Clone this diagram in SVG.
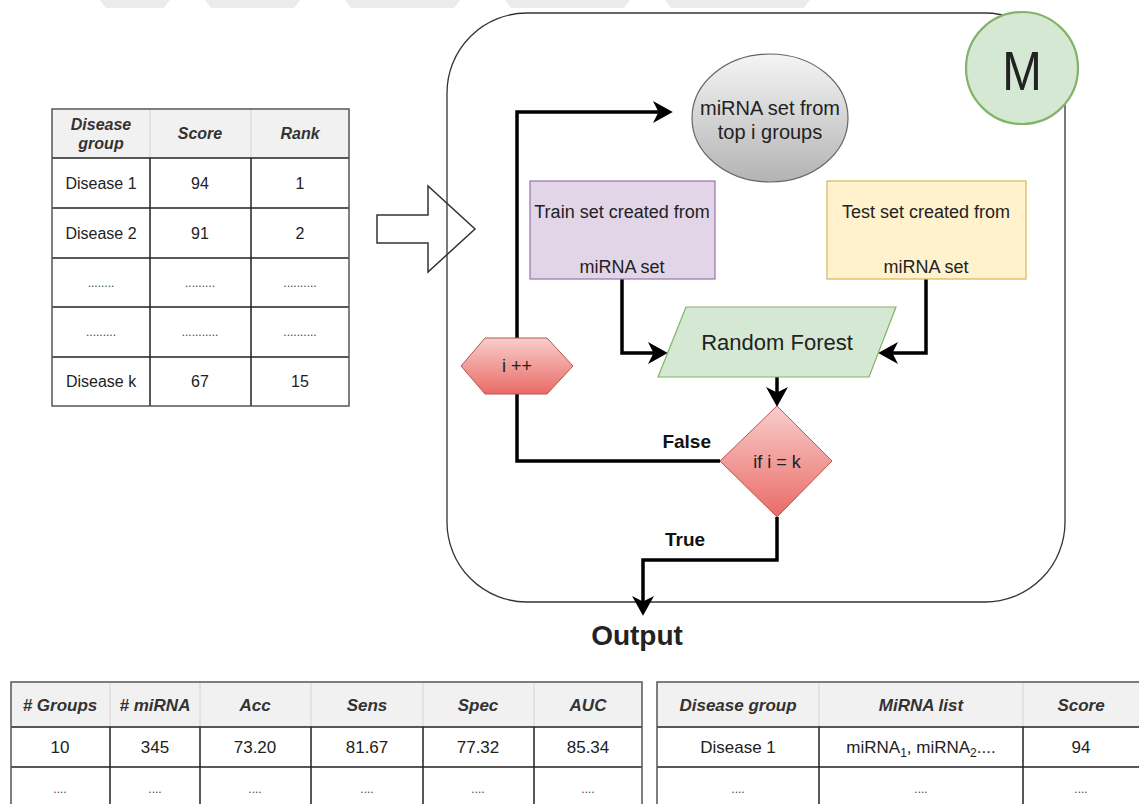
<svg xmlns="http://www.w3.org/2000/svg" width="1139" height="804" viewBox="0 0 1139 804">
  <defs>
    <linearGradient id="gGray" x1="0" y1="0" x2="0" y2="1">
      <stop offset="0" stop-color="#f5f5f5"/>
      <stop offset="1" stop-color="#b3b3b3"/>
    </linearGradient>
    <linearGradient id="gRed" x1="0" y1="0" x2="0" y2="1">
      <stop offset="0" stop-color="#f8cecc"/>
      <stop offset="1" stop-color="#ea6b66"/>
    </linearGradient>
    <marker id="arr" markerUnits="userSpaceOnUse" markerWidth="22" markerHeight="22" viewBox="0 0 20 20" refX="10" refY="10" orient="auto">
      <path d="M0,0 L18,10 L0,20 L5,10 Z" fill="#000"/>
    </marker>
    <style>
      text { font-family: "Liberation Sans", Arial, sans-serif; fill: #222; }
      .hd { font-weight: bold; font-style: italic; fill: #333; text-anchor: middle; }
      .td { text-anchor: middle; }
      .dots { text-anchor: middle; font-size: 12px; fill: #444; }
      .hdbg { fill: #f1f1f1; }
      .lgrid { stroke: #d4d4d4; stroke-width: 1; }
      .grid { stroke: #222; stroke-width: 1.5; fill: none; }
      .frame { stroke: #555; stroke-width: 1.5; fill: none; }
      .conn { fill: none; stroke: #000; stroke-width: 3.5; stroke-linejoin: miter; }
      .lbl { font-weight: bold; font-size: 19px; fill: #111; }
      .ctr { text-anchor: middle; }
    </style>
  </defs>

  <rect width="1139" height="804" fill="#fff"/>

  <!-- faint band along the top edge -->
  <g id="band" fill="#ececec">
    <polygon points="100,0 170,0 164,8 106,8"/>
    <polygon points="205,0 300,0 294,8 211,8"/>
    <polygon points="345,0 460,0 454,8 351,8"/>
    <polygon points="505,0 630,0 624,8 511,8"/>
    <polygon points="665,0 810,0 804,8 671,8"/>
  </g>

  <!-- ranking table -->
  <g id="rankTable">
    <rect class="hdbg" x="52" y="109" width="297" height="49"/>
    <line class="lgrid" x1="150" y1="109" x2="150" y2="158"/>
    <line class="lgrid" x1="251" y1="109" x2="251" y2="158"/>
    <path class="grid" d="M52,158 H349 M52,208 H349 M52,258 H349 M52,307 H349 M52,357 H349 M150,158 V406 M251,158 V406"/>
    <rect class="frame" x="52" y="109" width="297" height="297"/>
    <text class="hd" x="101" y="130" font-size="16">Disease</text>
    <text class="hd" x="101" y="149" font-size="16">group</text>
    <text class="hd" x="200" y="139" font-size="16">Score</text>
    <text class="hd" x="300" y="139" font-size="16">Rank</text>
    <text class="td" x="101" y="189" font-size="16">Disease 1</text>
    <text class="td" x="200" y="189" font-size="16">94</text>
    <text class="td" x="300" y="189" font-size="16">1</text>
    <text class="td" x="101" y="239" font-size="16">Disease 2</text>
    <text class="td" x="200" y="239" font-size="16">91</text>
    <text class="td" x="300" y="239" font-size="16">2</text>
    <text class="dots" x="101" y="287">........</text>
    <text class="dots" x="200" y="287">.........</text>
    <text class="dots" x="300" y="287">..........</text>
    <text class="dots" x="101" y="336">.........</text>
    <text class="dots" x="200" y="336">...........</text>
    <text class="dots" x="300" y="336">..........</text>
    <text class="td" x="101" y="387" font-size="16">Disease k</text>
    <text class="td" x="200" y="387" font-size="16">67</text>
    <text class="td" x="300" y="387" font-size="16">15</text>
  </g>

  <!-- hollow block arrow -->
  <g id="blockArrow">
    <polygon points="377,215 428,215 428,186 475,229 428,272 428,243 377,243" fill="#fff" stroke="#333" stroke-width="1.5"/>
  </g>

  <!-- method container -->
  <g id="container">
    <rect x="447" y="13" width="618" height="589" rx="80" ry="80" fill="none" stroke="#333" stroke-width="1.3"/>
  </g>

  <!-- connectors -->
  <g id="connectors">
    <path class="conn" d="M517,338 V112 H664" marker-end="url(#arr)"/>
    <path class="conn" d="M720,461 H517 V394"/>
    <path class="conn" d="M622,279 V353 H659" marker-end="url(#arr)"/>
    <path class="conn" d="M926,279 V353 H887" marker-end="url(#arr)"/>
    <path class="conn" d="M777,377 V398" marker-end="url(#arr)"/>
    <path class="conn" d="M777,517 V560 H643 V607" marker-end="url(#arr)"/>
  </g>

  <g id="mLabel">
    <circle cx="1022" cy="68" r="56" fill="#d5e8d4" stroke="#82b366" stroke-width="2.2"/>
    <text x="0" y="0" font-size="50" text-anchor="middle" fill="#000" transform="translate(1022,90) scale(0.95,1.12)">M</text>
  </g>

  <g id="miRNASet">
    <ellipse cx="770" cy="118" rx="78" ry="64" fill="url(#gGray)" stroke="#666" stroke-width="1.2"/>
    <text class="ctr" x="770" y="115" font-size="20">miRNA set from</text>
    <text class="ctr" x="770" y="139" font-size="20">top i groups</text>
  </g>

  <g id="trainSet">
    <rect x="530" y="181" width="185" height="98" fill="#e1d5e7" stroke="#9673a6" stroke-width="1.2"/>
    <text class="ctr" x="622" y="218" font-size="18">Train set created from</text>
    <text class="ctr" x="622" y="273" font-size="18">miRNA set</text>
  </g>

  <g id="testSet">
    <rect x="827" y="181" width="199" height="98" fill="#fff2cc" stroke="#d6b656" stroke-width="1.2"/>
    <text class="ctr" x="926" y="218" font-size="18">Test set created from</text>
    <text class="ctr" x="926" y="273" font-size="18">miRNA set</text>
  </g>

  <g id="randomForest">
    <polygon points="686,307 896,307 869,377 658,377" fill="#d5e8d4" stroke="#82b366" stroke-width="1.2"/>
    <text class="ctr" x="777" y="350" font-size="22">Random Forest</text>
  </g>

  <g id="increment">
    <polygon points="461,366 485,338 547,338 573,366 547,394 485,394" fill="url(#gRed)" stroke="#b85450" stroke-width="1"/>
    <text class="ctr" x="517" y="372" font-size="18">i ++</text>
  </g>

  <g id="decision">
    <polygon points="777,406 832,461 777,517 720,461" fill="url(#gRed)" stroke="#b85450" stroke-width="1"/>
    <text class="ctr" x="777" y="468" font-size="18">if i = k</text>
  </g>

  <g id="edgeLabels">
    <text class="lbl" x="711" y="448" text-anchor="end">False</text>
    <text class="lbl" x="685" y="546" text-anchor="middle">True</text>
  </g>

  <g id="output">
    <text x="637" y="645" font-size="28" font-weight="bold" text-anchor="middle" fill="#111">Output</text>
  </g>

  <!-- performance table -->
  <g id="perfTable">
    <rect class="hdbg" x="11" y="682" width="631" height="45"/>
    <path class="lgrid" d="M110,682 V727 M200,682 V727 M311,682 V727 M423,682 V727 M534,682 V727"/>
    <path class="grid" d="M11,727 H642 M11,767 H642 M110,727 V812 M200,727 V812 M311,727 V812 M423,727 V812 M534,727 V812"/>
    <rect class="frame" x="11" y="682" width="631" height="130"/>
    <text class="hd" x="60" y="711" font-size="17"># Groups</text>
    <text class="hd" x="155" y="711" font-size="17"># miRNA</text>
    <text class="hd" x="255" y="711" font-size="17">Acc</text>
    <text class="hd" x="367" y="711" font-size="17">Sens</text>
    <text class="hd" x="478" y="711" font-size="17">Spec</text>
    <text class="hd" x="588" y="711" font-size="17">AUC</text>
    <text class="td" x="60" y="753" font-size="17">10</text>
    <text class="td" x="155" y="753" font-size="17">345</text>
    <text class="td" x="255" y="753" font-size="17">73.20</text>
    <text class="td" x="367" y="753" font-size="17">81.67</text>
    <text class="td" x="478" y="753" font-size="17">77.32</text>
    <text class="td" x="588" y="753" font-size="17">85.34</text>
    <text class="dots" x="60" y="793">....</text>
    <text class="dots" x="155" y="793">....</text>
    <text class="dots" x="255" y="793">....</text>
    <text class="dots" x="367" y="793">....</text>
    <text class="dots" x="478" y="793">....</text>
    <text class="dots" x="588" y="793">....</text>
  </g>

  <!-- disease / miRNA table -->
  <g id="miRNATable">
    <rect class="hdbg" x="657" y="682" width="490" height="45"/>
    <path class="lgrid" d="M819,682 V727 M1023,682 V727"/>
    <path class="grid" d="M657,727 H1147 M657,767 H1147 M819,727 V812 M1023,727 V812"/>
    <rect class="frame" x="657" y="682" width="490" height="130"/>
    <text class="hd" x="738" y="711" font-size="17">Disease group</text>
    <text class="hd" x="921" y="711" font-size="17">MiRNA list</text>
    <text class="hd" x="1081" y="711" font-size="17">Score</text>
    <text class="td" x="738" y="753" font-size="17">Disease 1</text>
    <text class="td" x="921" y="753" font-size="17">miRNA<tspan font-size="12" dy="4">1</tspan><tspan dy="-4">, miRNA</tspan><tspan font-size="12" dy="4">2</tspan><tspan dy="-4">....</tspan></text>
    <text class="td" x="1081" y="753" font-size="17">94</text>
    <text class="dots" x="738" y="793">....</text>
    <text class="dots" x="921" y="793">....</text>
    <text class="dots" x="1081" y="793">....</text>
  </g>
</svg>
